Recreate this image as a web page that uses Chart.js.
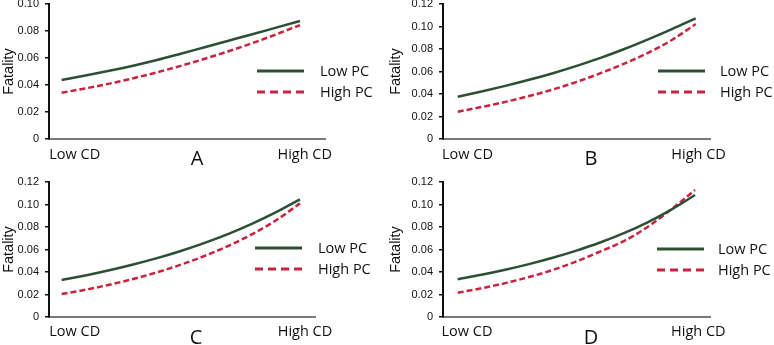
<!DOCTYPE html>
<html>
<head>
<meta charset="utf-8">
<script src="https://cdn.jsdelivr.net/npm/chart.js@4.4.0/dist/chart.umd.min.js"></script>
<style>
    html, body { margin: 0; padding: 0; background: #fff; }
    body { width: 774px; height: 345px; position: relative; overflow: hidden; }
    canvas { position: absolute; }
</style>
</head>
<body>
<canvas id="chartA" width="387" height="172" style="left:0;top:0"></canvas>
<canvas id="chartB" width="387" height="172" style="left:387px;top:0"></canvas>
<canvas id="chartC" width="387" height="180" style="left:0;top:172px"></canvas>
<canvas id="chartD" width="387" height="180" style="left:387px;top:172px"></canvas>
<script>
// Steps along the CD axis, Low CD -> High CD
const cdSteps = [0, 1, 2, 3, 4, 5, 6, 7, 8, 9, 10];
const xTickLabels = ['Low CD', 'High CD'];
const seriesNames = ['Low PC', 'High PC'];
const panelLetters = ['A', 'B', 'C', 'D'];
const yMaxValues = [0.1, 0.12, 0.12, 0.12];

// Fatality values
const lowPcA  = [0.0437, 0.0470, 0.0505, 0.0543, 0.0585, 0.0632, 0.0680, 0.0728, 0.0776, 0.0825, 0.0874];
const highPcA = [0.0343, 0.0375, 0.0410, 0.0450, 0.0494, 0.0542, 0.0594, 0.0650, 0.0710, 0.0775, 0.0844];
const lowPcB  = [0.0376, 0.0422, 0.0472, 0.0526, 0.0585, 0.0650, 0.0721, 0.0800, 0.0886, 0.0977, 0.1073];
const highPcB = [0.0243, 0.0284, 0.0330, 0.0382, 0.0440, 0.0508, 0.0585, 0.0670, 0.0766, 0.0880, 0.1022];
const lowPcC  = [0.0329, 0.0369, 0.0415, 0.0466, 0.0523, 0.0587, 0.0659, 0.0739, 0.0830, 0.0932, 0.1046];
const highPcC = [0.0204, 0.0242, 0.0287, 0.0338, 0.0397, 0.0465, 0.0543, 0.0633, 0.0737, 0.0860, 0.1010];
const lowPcD  = [0.0335, 0.0375, 0.0420, 0.0470, 0.0526, 0.0590, 0.0662, 0.0745, 0.0842, 0.0955, 0.1084];
const highPcD = [0.0216, 0.0255, 0.0301, 0.0355, 0.0418, 0.0494, 0.0582, 0.0675, 0.0800, 0.0957, 0.1129];

const lowPcSeries = [lowPcA, lowPcB, lowPcC, lowPcD];
const highPcSeries = [highPcA, highPcB, highPcC, highPcD];

// layout of each panel inside its canvas
const panels = [
    { id: 'chartA', left: 49, right: 325, top: 4,  bottom: 139, xMin: -0.53, xMax: 11.05, tickAt: [0.55, 10.2],  tickPad: -1,
      legendX: 257, legendY: [71, 92], textX: 320, letterX: 197, letterY: 159 },
    { id: 'chartB', left: 56, right: 323, top: 4,  bottom: 139, xMin: -0.62, xMax: 10.6,  tickAt: [0.41, 10.12], tickPad: -1,
      legendX: 271, legendY: [71, 92], textX: 333, letterX: 204, letterY: 159 },
    { id: 'chartC', left: 49, right: 315, top: 10, bottom: 145, xMin: -0.53, xMax: 10.63, tickAt: [0.55, 10.21], tickPad: -2,
      legendX: 255, legendY: [76, 97], textX: 318, letterX: 196, letterY: 166 },
    { id: 'chartD', left: 56, right: 323, top: 10, bottom: 145, xMin: -0.62, xMax: 10.63, tickAt: [0.39, 10.14], tickPad: -2,
      legendX: 270, legendY: [77, 98], textX: 331, letterX: 204, letterY: 166 }
];

const GREEN = '#2d4f33';
const RED = '#c9223f';
const TEXT = '#111';

// draws the in-plot legend and the panel letter
const panelDecor = {
    id: 'panelDecor',
    afterDatasetsDraw(chart, args, opts) {
        const ctx = chart.ctx;
        ctx.save();
        chart.data.datasets.forEach((ds, i) => {
            const y = opts.legendY[i];
            ctx.beginPath();
            ctx.strokeStyle = ds.borderColor;
            ctx.lineWidth = 3;
            ctx.setLineDash(ds.borderDash.length ? [8, 5] : []);
            ctx.moveTo(opts.legendX, y);
            ctx.lineTo(opts.legendX + 47, y);
            ctx.stroke();
            ctx.setLineDash([]);
            ctx.fillStyle = TEXT;
            ctx.font = '14.5px "Open Sans"';
            ctx.textAlign = 'left';
            ctx.textBaseline = 'middle';
            ctx.fillText(ds.label, opts.textX, y + 1);
        });
        ctx.font = '20px "Open Sans"';
        ctx.textAlign = 'center';
        ctx.textBaseline = 'middle';
        ctx.fillText(opts.letter, opts.letterX, opts.letterY);
        ctx.restore();
    }
};

panels.forEach((p, k) => {
    const canvas = document.getElementById(p.id);
    const W = canvas.width, H = canvas.height;
    const toPoints = vals => cdSteps.map((x, i) => ({ x: x, y: vals[i] }));

    new Chart(canvas.getContext('2d'), {
        type: 'line',
        data: {
            datasets: [{
                label: seriesNames[0],
                data: toPoints(lowPcSeries[k]),
                borderColor: GREEN,
                borderWidth: 2.5,
                borderDash: [],
                pointRadius: 0,
                cubicInterpolationMode: 'monotone',
                fill: false
            }, {
                label: seriesNames[1],
                data: toPoints(highPcSeries[k]),
                borderColor: RED,
                borderWidth: 2.5,
                borderDash: [6, 3],
                pointRadius: 0,
                cubicInterpolationMode: 'monotone',
                fill: false
            }]
        },
        options: {
            responsive: false,
            animation: false,
            devicePixelRatio: 1,
            layout: { padding: { left: 0, top: p.top, right: W - p.right, bottom: 0 } },
            plugins: {
                legend: { display: false },
                tooltip: { enabled: false },
                panelDecor: {
                    legendX: p.legendX, legendY: p.legendY, textX: p.textX,
                    letter: panelLetters[k], letterX: p.letterX, letterY: p.letterY
                }
            },
            scales: {
                x: {
                    type: 'linear',
                    min: p.xMin,
                    max: p.xMax,
                    afterBuildTicks: s => { s.ticks = p.tickAt.map(v => ({ value: v })); },
                    ticks: {
                        callback: (v, i) => xTickLabels[i],
                        autoSkip: false,
                        maxRotation: 0,
                        padding: p.tickPad,
                        color: TEXT,
                        font: { family: 'Open Sans', size: 14.5 }
                    },
                    grid: { display: false },
                    border: { color: '#7a7a7a', width: 2 },
                    afterFit: s => { s.height = H - p.bottom; s.paddingLeft = 0; s.paddingRight = 0; }
                },
                y: {
                    min: 0,
                    max: yMaxValues[k],
                    ticks: {
                        stepSize: 0.02,
                        padding: 6,
                        color: TEXT,
                        font: { family: 'Liberation Sans', size: 11 }
                    },
                    grid: { drawOnChartArea: false, tickLength: 4, color: '#111', lineWidth: 1.5 },
                    border: { color: '#111', width: 2 },
                    title: {
                        display: true,
                        text: 'Fatality',
                        color: TEXT,
                        padding: 0,
                        font: { family: 'Liberation Sans', size: 14.5 }
                    },
                    afterFit: s => { s.width = p.left; s.paddingTop = 0; s.paddingBottom = 0; }
                }
            }
        },
        plugins: [panelDecor]
    });
});
</script>
</body>
</html>
